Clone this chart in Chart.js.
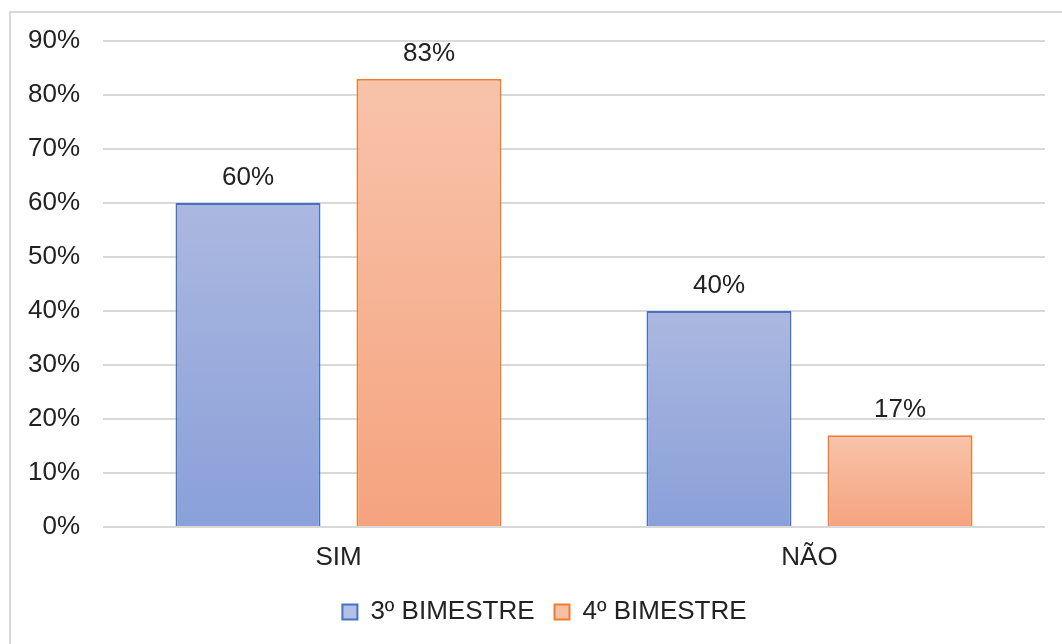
<!DOCTYPE html>
<html>
<head>
<meta charset="utf-8">
<script src="https://cdn.jsdelivr.net/npm/chart.js@4/dist/chart.umd.min.js"></script>
<style>
  html, body { margin: 0; padding: 0; background: #fff; overflow: hidden; }
  #wrap { position: relative; width: 1062px; height: 644px; }
  #frame { position: absolute; left: 9px; top: 11px; width: 1100px; height: 700px; border: 2px solid #d9d9d9; }
  #chart { position: absolute; left: 0; top: 0; }
</style>
</head>
<body>
<div id="wrap">
  <div id="frame"></div>
  <canvas id="chart" width="1062" height="644"></canvas>
</div>
<script>
var categories = ['SIM', 'NÃO'];
var serie3 = [60, 40];
var serie4 = [83, 17];
var seriesNames = ['3º BIMESTRE', '4º BIMESTRE'];

var FONT = "'Liberation Sans', Arial, sans-serif";
var TEXT = '#222222';

// vertical gradient per bar, from the bar top down to the baseline
function barFill(top, bottom) {
  return function (ctx) {
    var chart = ctx.chart;
    if (ctx.type !== 'data' || !chart.chartArea || !chart.scales.y) return top;
    var y = chart.scales.y;
    var g = chart.ctx.createLinearGradient(0, y.getPixelForValue(ctx.raw), 0, y.getPixelForValue(0));
    g.addColorStop(0, top);
    g.addColorStop(1, bottom);
    return g;
  };
}

var valueLabels = {
  id: 'valueLabels',
  afterDatasetsDraw: function (chart) {
    var c = chart.ctx;
    c.save();
    c.font = '26px ' + FONT;
    c.fillStyle = TEXT;
    c.textAlign = 'center';
    c.textBaseline = 'alphabetic';
    chart.data.datasets.forEach(function (ds, i) {
      chart.getDatasetMeta(i).data.forEach(function (bar, j) {
        c.fillText(ds.data[j] + '%', bar.x, bar.y - 18);
      });
    });
    c.restore();
  }
};

// nudge the legend a little right so it sits under the plot, not the canvas
var legendShift = {
  id: 'legendShift',
  afterLayout: function (chart) {
    chart.legend.left += 12;
    chart.legend.right += 12;
  }
};

new Chart(document.getElementById('chart'), {
  type: 'bar',
  data: {
    labels: categories,
    datasets: [{
      label: seriesNames[0],
      data: serie3,
      backgroundColor: barFill('#abb8e0', '#8aa0d9'),
      borderColor: '#4472c4',
      borderWidth: 2,
      borderSkipped: 'bottom',
      categoryPercentage: 0.7686,
      barPercentage: 0.801
    }, {
      label: seriesNames[1],
      data: serie4,
      backgroundColor: barFill('#f8c3ab', '#f5a37e'),
      borderColor: '#ed7d31',
      borderWidth: 2,
      borderSkipped: 'bottom',
      categoryPercentage: 0.7686,
      barPercentage: 0.801
    }]
  },
  options: {
    responsive: false,
    animation: false,
    layout: {
      padding: { top: 41, left: 20, right: 17, bottom: 9 }
    },
    scales: {
      x: {
        grid: { display: false, drawTicks: false },
        border: { display: false },
        ticks: { color: TEXT, font: { family: FONT, size: 26 }, padding: 15 },
        afterFit: function (scale) { scale.height = 52; }
      },
      y: {
        min: 0,
        max: 90,
        grid: { color: '#d9d9d9', lineWidth: 2, drawTicks: false },
        border: { display: false },
        ticks: {
          stepSize: 10,
          padding: 23,
          color: TEXT,
          font: { family: FONT, size: 26 },
          callback: function (v) { return v + '%'; }
        },
        afterFit: function (scale) { scale.width = 83; }
      }
    },
    plugins: {
      tooltip: { enabled: false },
      legend: {
        position: 'bottom',
        labels: {
          color: TEXT,
          font: { family: FONT, size: 26 },
          boxWidth: 15,
          boxHeight: 15,
          padding: 20,
          generateLabels: function (chart) {
            var fills = ['#b4c0e6', '#f8bfa5'];
            return chart.data.datasets.map(function (ds, i) {
              return {
                text: ds.label,
                fillStyle: fills[i],
                strokeStyle: ds.borderColor,
                lineWidth: 2,
                fontColor: TEXT,
                datasetIndex: i
              };
            });
          }
        }
      }
    }
  },
  plugins: [valueLabels, legendShift]
});
</script>
</body>
</html>
